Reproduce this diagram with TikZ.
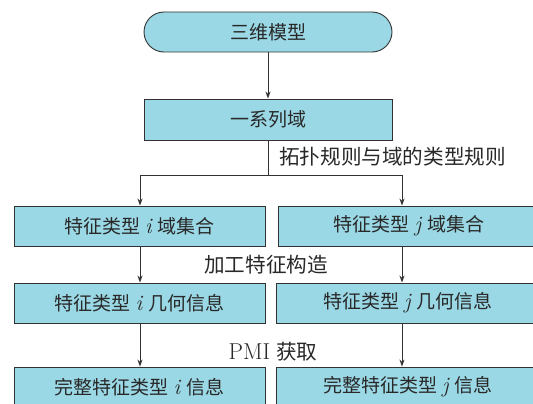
\documentclass[tikz,border=0pt]{standalone}
\usepackage{fontspec}
\newfontfamily\cjk{Noto Sans CJK SC}
\newcommand\latit[1]{\hspace{5pt}{\fontsize{22}{22}\selectfont\rmfamily\itshape #1}\hspace{6pt}}
\newcommand\latrm[1]{{\fontsize{23}{23}\selectfont\rmfamily #1}\hspace{6pt}}
\usetikzlibrary{arrows.meta}
\definecolor{boxfill}{RGB}{155,216,229}
\definecolor{edge}{RGB}{50,50,50}
\definecolor{txt}{RGB}{40,40,40}
\begin{document}
\begin{tikzpicture}[x=1pt,y=-1pt,
  box/.style={draw=edge,line width=0.9pt,fill=boxfill,minimum height=40pt,inner sep=0pt,
    font=\fontsize{19}{21}\selectfont\cjk,text=txt,anchor=center},
  pill/.style={box,rounded corners=20pt},
  conn/.style={draw=edge,line width=0.9pt},
  arr/.style={conn,-{Stealth[length=7pt,width=5pt]}},
  lbl/.style={font=\fontsize{20.6}{22}\selectfont\cjk,text=txt,inner sep=0pt}]
\useasboundingbox (0,0) rectangle (533,404);
\node[pill,minimum width=248pt] (top) at (268,32) {三维模型};
\node[box,minimum width=248pt,minimum height=41pt] (dom) at (268,119.5) {一系列域};
\node[box,minimum width=251pt] (si) at (139.5,226) {特征类型\latit{i}域集合};
\node[box,minimum width=262pt] (sj) at (409,226) {特征类型\latit{j}域集合};
\node[box,minimum width=251pt] (gi) at (139.5,303) {特征类型\latit{i}几何信息};
\node[box,minimum width=264pt] (gj) at (408,303) {特征类型\latit{j}几何信息};
\node[box,minimum width=251pt] (ci) at (139.5,387) {完整特征类型\latit{i}信息};
\node[box,minimum width=264pt] (cj) at (408,387) {完整特征类型\latit{j}信息};
\coordinate (ix) at (140,0);
\coordinate (jx) at (402,0);
\coordinate (split) at (268,175);
\draw[arr] (top) -- (dom);
\draw[conn] (dom) -- (split);
\draw[arr] (split) -| (si.north -| ix);
\draw[arr] (split) -| (sj.north -| jx);
\draw[arr] (si.south -| ix) -- (gi.north -| ix);
\draw[arr] (sj.south -| jx) -- (gj.north -| jx);
\draw[arr] (gi.south -| ix) -- (ci.north -| ix);
\draw[arr] (gj.south -| jx) -- (cj.north -| jx);
\node[lbl,anchor=west] (l1) at (279,157) {拓扑规则与域的类型规则};
\node[lbl] (l2) at (266,265) {加工特征构造};
\node[lbl] (l3) at (273,352) {\latrm{PMI}获取};
\end{tikzpicture}
\end{document}
